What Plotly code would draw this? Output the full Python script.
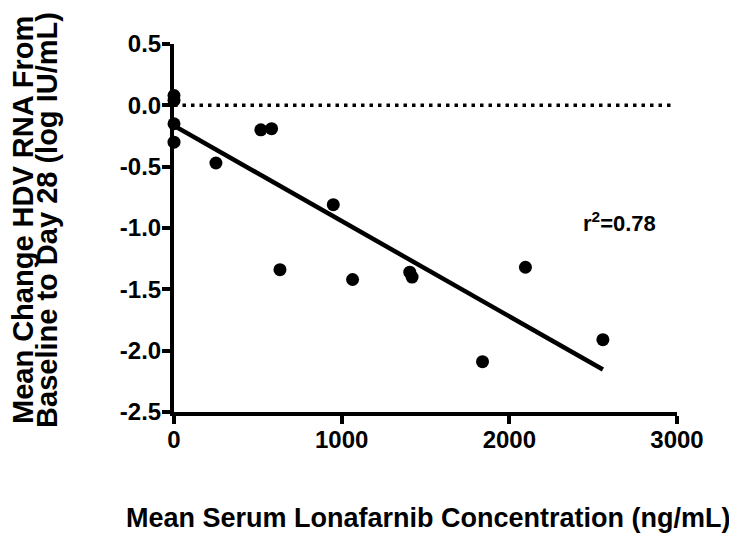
import numpy as np
import plotly.graph_objects as go

# Data
conc = [0, 0, 0, 0, 250, 518, 582, 632, 950, 1065, 1406, 1420, 1840, 2096, 2558]
change = [0.08, 0.04, -0.15, -0.30, -0.47, -0.20, -0.19, -1.34, -0.81, -1.42,
          -1.36, -1.40, -2.09, -1.32, -1.91]
x_ticks = [0, 1000, 2000, 3000]
y_ticks = [0.5, 0.0, -0.5, -1.0, -1.5, -2.0, -2.5]
y_tick_text = ["0.5", "0.0", "-0.5", "-1.0", "-1.5", "-2.0", "-2.5"]
x_title = "Mean Serum Lonafarnib Concentration (ng/mL)"
y_title_1 = "Mean Change HDV RNA From"
y_title_2 = "Baseline to Day 28 (log IU/mL)"

xa = np.array(conc, dtype=float)
ya = np.array(change, dtype=float)
slope, intercept = np.polyfit(xa, ya, 1)
r2 = np.corrcoef(xa, ya)[0, 1] ** 2
fit_x = [xa.min(), xa.max()]
fit_y = [intercept + slope * v for v in fit_x]

FONT = "Liberation Sans, Arial, sans-serif"

fig = go.Figure()
fig.add_trace(go.Scatter(x=[0, 2970], y=[0, 0], mode="lines",
                         line=dict(color="black", width=3.5, dash="3.5px,5px"),
                         hoverinfo="skip", showlegend=False))
fig.add_trace(go.Scatter(x=fit_x, y=fit_y, mode="lines",
                         line=dict(color="black", width=4.5),
                         showlegend=False, cliponaxis=False))
fig.add_trace(go.Scatter(x=conc, y=change, mode="markers",
                         marker=dict(color="black", size=13),
                         showlegend=False, cliponaxis=False))

tickfont = dict(family=FONT, size=24, color="black", weight="bold")
bold = lambda s: dict(family=FONT, size=s, color="black", weight="bold")
fig.update_layout(
    width=737, height=533,
    margin=dict(l=166, r=68, t=36, b=129),
    paper_bgcolor="white", plot_bgcolor="white",
    font=dict(family=FONT, color="black"),
    xaxis=dict(range=[0, 3000], tickvals=x_ticks, ticks="outside", ticklen=8,
               tickwidth=4, tickcolor="black", showline=True, linewidth=4,
               linecolor="black", showgrid=False, zeroline=False,
               tickfont=tickfont, ticklabelstandoff=-5),
    yaxis=dict(range=[-2.5, 0.5], tickvals=y_ticks, ticktext=y_tick_text,
               ticks="outside", ticklen=8, tickwidth=4, tickcolor="black",
               showline=True, linewidth=4, linecolor="black", showgrid=False,
               zeroline=False, tickfont=tickfont, ticklabelstandoff=-4),
    annotations=[
        dict(text="<b>%s</b>" % x_title,
             xref="paper", yref="paper", x=0.505, y=-0.288, showarrow=False,
             xanchor="center", yanchor="middle", font=bold(27)),
        dict(text="<b>%s</b>" % y_title_1,
             xref="paper", yref="paper", x=-0.300, y=0.522, showarrow=False,
             textangle=-90, xanchor="center", yanchor="middle", font=bold(29)),
        dict(text="<b>%s</b>" % y_title_2,
             xref="paper", yref="paper", x=-0.2525, y=0.522, showarrow=False,
             textangle=-90, xanchor="center", yanchor="middle", font=bold(29)),
        dict(text="<b>r<sup>2</sup>=%.2f</b>" % r2,
             xref="x", yref="y", x=2660, y=-0.95, showarrow=False,
             font=bold(22)),
    ],
)

fig.write_html("out.html")
